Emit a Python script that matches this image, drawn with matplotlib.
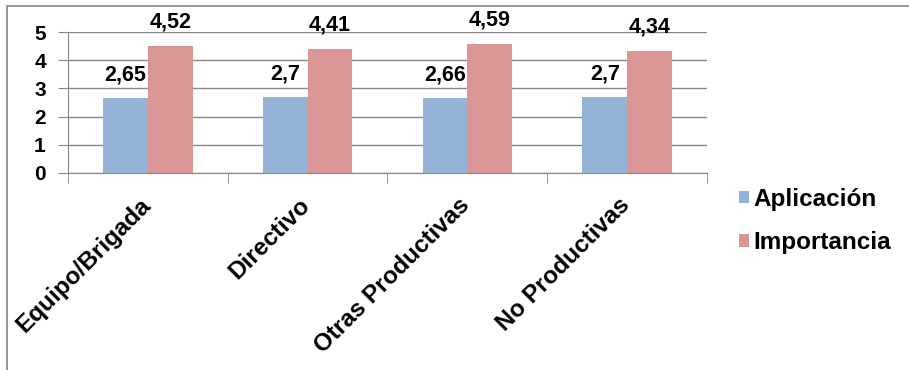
import matplotlib
matplotlib.use("Agg")
import matplotlib.pyplot as plt
import matplotlib.transforms as mtransforms
from matplotlib.patches import Rectangle
import numpy as np

categorias = ["Equipo/Brigada", "Directivo", "Otras Productivas", "No Productivas"]
aplicacion = [2.65, 2.7, 2.66, 2.7]
importancia = [4.52, 4.41, 4.59, 4.34]
etiquetas_apl = ["2,65", "2,7", "2,66", "2,7"]
etiquetas_imp = ["4,52", "4,41", "4,59", "4,34"]
series = ["Aplicación", "Importancia"]

plt.rcParams['font.family'] = ['Liberation Sans', 'DejaVu Sans']
plt.rcParams['font.weight'] = 'bold'

azul = "#95B3D7"
rojo = "#D99694"
gris = "#868686"

fig = plt.figure(figsize=(9.09, 3.70), dpi=100)
ax = fig.add_axes([68 / 909, 1 - 173 / 370, (707 - 68) / 909, (173 - 32) / 370])

x = np.arange(len(categorias))
ancho = 0.28
b1 = ax.bar(x - ancho / 2, aplicacion, ancho, color=azul, label=series[0], zorder=3)
b2 = ax.bar(x + ancho / 2, importancia, ancho, color=rojo, label=series[1], zorder=3)

# etiquetas de datos
for barras, textos in [(b1, etiquetas_apl), (b2, etiquetas_imp)]:
    for rect, txt in zip(barras, textos):
        ax.text(rect.get_x() + rect.get_width() / 2, rect.get_height() + 0.45, txt,
                ha='center', va='bottom', fontsize=15.5, fontweight='bold')

ax.set_xlim(-0.5, len(categorias) - 0.5)
ax.set_ylim(0, 5)
ax.set_yticks(range(6))
ax.yaxis.grid(True, color=gris, linewidth=1, zorder=0)
ax.tick_params(axis='y', length=7, color=gris, labelsize=15, pad=9)
for lbl in ax.get_yticklabels():
    lbl.set_fontweight('bold')

ax.set_xticks(x)
ax.set_xticklabels(categorias, rotation=45, ha='right', rotation_mode='anchor',
                   fontsize=17.5, fontweight='bold')
ax.tick_params(axis='x', length=0, pad=15)
desplaza = mtransforms.ScaledTranslation(-9 / 100, 0, fig.dpi_scale_trans)
for lbl in ax.get_xticklabels():
    lbl.set_transform(lbl.get_transform() + desplaza)
ax.set_xticks(np.arange(-0.5, len(categorias)), minor=True)
ax.tick_params(axis='x', which='minor', length=7, color=gris)

for lado in ['top', 'right']:
    ax.spines[lado].set_visible(False)
for lado in ['left', 'bottom']:
    ax.spines[lado].set_color(gris)

ax.legend(loc='center left', bbox_to_anchor=(1.05, -0.34), frameon=False,
          fontsize=17.5, handlelength=0.4, handleheight=0.4, handletextpad=0.2,
          labelspacing=0.85, borderaxespad=0, borderpad=0)

fig.patches.append(Rectangle((7 / 909, -0.1), 1.0, 1.1 - 6 / 370, transform=fig.transFigure,
                             fill=False, edgecolor=gris, linewidth=1.2))

fig.savefig("out.png", dpi=100)
